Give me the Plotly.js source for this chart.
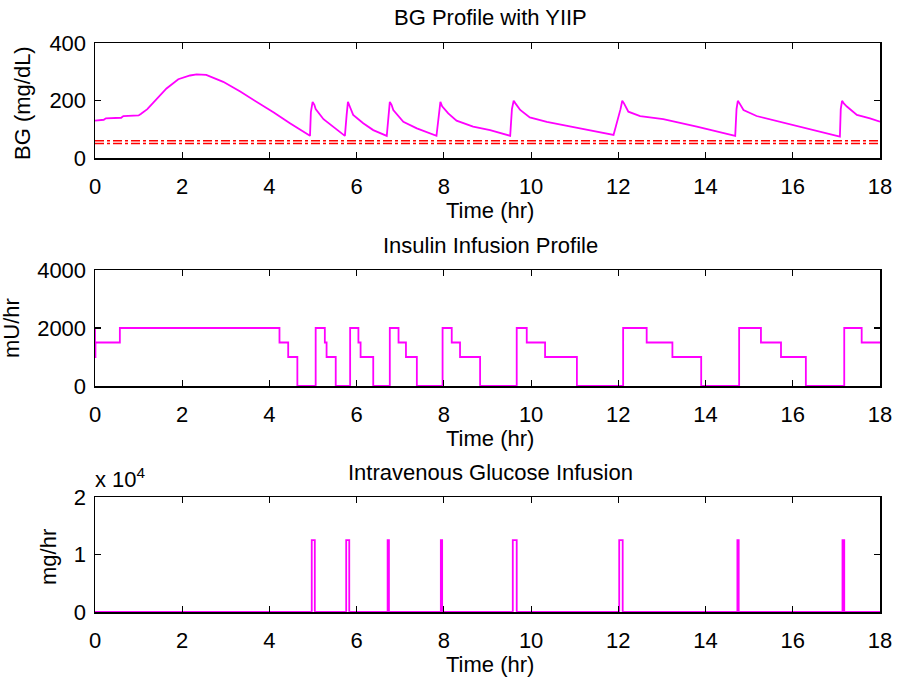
<!DOCTYPE html>
<html>
<head>
<meta charset="utf-8">
<script src="https://cdn.plot.ly/plotly-3.0.1.min.js"></script>
<style>html,body{margin:0;padding:0;background:#fff;}#chart{width:897px;height:681px;}</style>
</head>
<body>
<div id="chart"></div>
<script>
// ---- Data ----
// BG profile (mg/dL) vs time (hr)
var bgTime = [0, 0.2, 0.25, 0.6, 0.65, 1.0, 1.05, 1.2, 1.64, 1.91, 2.18, 2.33, 2.55, 2.94, 3.33, 3.71, 4.10, 4.47, 4.93,
  4.95, 4.99, 5.03, 5.06, 5.24, 5.47, 5.73,
  5.77, 5.80, 5.84, 5.88, 5.92, 6.15, 6.38, 6.69,
  6.73, 6.76, 6.80, 6.84, 7.07, 7.38, 7.83,
  7.89, 7.92, 7.96, 8.02, 8.10, 8.29, 8.67, 9.06, 9.52,
  9.56, 9.60, 9.64, 9.75, 9.97, 10.36, 11.12, 11.89,
  12.05, 12.09, 12.13, 12.23, 12.50, 13.03, 13.80, 14.68,
  14.71, 14.74, 14.78, 14.87, 15.17, 15.71, 16.47, 17.08,
  17.10, 17.13, 17.17, 17.24, 17.47, 17.77, 18];
var bgValue = [130, 133, 138, 140, 146, 148, 153, 170, 242, 274, 287, 291, 289, 265, 231, 196, 158, 121, 77,
  160, 195, 185, 170, 135, 109, 77,
  150, 195, 180, 165, 150, 121, 97, 77,
  160, 195, 185, 167, 126, 103, 77,
  160, 195, 180, 170, 155, 130, 109, 97, 77,
  170, 199, 190, 167, 141, 126, 103, 80,
  170, 199, 190, 161, 146, 135, 109, 77,
  170, 199, 190, 167, 146, 126, 97, 74,
  170, 199, 190, 179, 150, 138, 126];
// Hypoglycemia thresholds (mg/dL)
var thresholdLevels = [60, 50];
var timeRange = [0, 18];

// Insulin infusion (mU/hr), step changes
var insTime = [0, 0, 0.01, 0.57, 4.23, 4.43, 4.64, 5.06, 5.27, 5.31, 5.52, 5.85, 6.04, 6.09, 6.38, 6.76, 6.96, 7.13, 7.38,
  7.97, 8.18, 8.37, 8.83, 9.67, 9.90, 10.32, 11.05, 12.11, 12.65, 13.24, 13.90, 14.77, 15.27, 15.73, 16.30, 17.18, 17.58, 18];
var insValue = [2000, 1000, 1500, 2000, 1500, 1000, 0, 2000, 1500, 1000, 0, 2000, 1500, 1000, 0, 2000, 1500, 1000, 0,
  2000, 1500, 1000, 0, 2000, 1500, 1000, 0, 2000, 1500, 1000, 0, 2000, 1500, 1000, 0, 2000, 1500, 1500];

// Intravenous glucose infusion (mg/hr), pulses
var gluTime = [0, 4.97, 5.04, 5.76, 5.83, 6.71, 6.74, 7.93, 7.96, 9.58, 9.67, 12.02, 12.10, 14.73, 14.76, 17.14, 17.18, 18];
var gluValue = [0, 12500, 0, 12500, 0, 12500, 0, 12500, 0, 12500, 0, 12500, 0, 12500, 0, 12500, 0, 0];

// Tick labels
var xTicks = [0, 2, 4, 6, 8, 10, 12, 14, 16, 18];
var bgTicks = [0, 200, 400];
var insTicks = [0, 2000, 4000];
var gluTickVals = [0, 10000, 20000];
var gluTickText = ['0', '1', '2'];

// ---- Layout helpers ----
var W = 897, H = 681;
function px(x) { return x / W; }
function py(y) { return 1 - y / H; }
var FONT = 'Liberation Sans, Arial, sans-serif';
var FS = 22;
var MAG = '#ff00ff';

var traces = [
  {x: bgTime, y: bgValue, xaxis: 'x', yaxis: 'y', type: 'scatter', mode: 'lines',
   line: {color: MAG, width: 1.8}},
  {x: timeRange, y: [thresholdLevels[0], thresholdLevels[0]], xaxis: 'x', yaxis: 'y', type: 'scatter', mode: 'lines',
   line: {color: '#ff0000', width: 1.5, dash: 'dashdot'}},
  {x: timeRange, y: [thresholdLevels[1], thresholdLevels[1]], xaxis: 'x', yaxis: 'y', type: 'scatter', mode: 'lines',
   line: {color: '#ff0000', width: 1.5, dash: 'dashdot'}},
  {x: insTime, y: insValue, xaxis: 'x2', yaxis: 'y2', type: 'scatter', mode: 'lines',
   line: {color: MAG, width: 1.8, shape: 'hv'}},
  {x: gluTime, y: gluValue, xaxis: 'x3', yaxis: 'y3', type: 'scatter', mode: 'lines',
   line: {color: MAG, width: 1.8, shape: 'hv'}}
];

function xa(dom) {
  return {domain: [px(95), px(880)], anchor: dom, range: [0, 18], tickvals: xTicks,
    showline: true, mirror: 'ticks', linecolor: '#000', linewidth: 1.5,
    ticks: 'inside', ticklen: 6, tickwidth: 1.2, tickcolor: '#000',
    showgrid: false, zeroline: false, tickfont: {family: FONT, size: FS, color: '#000'}, ticklabelstandoff: 8};
}
function ya(top, bot, anc, range, tv, tt) {
  var o = {domain: [py(bot), py(top)], anchor: anc, range: range, tickvals: tv,
    showline: true, mirror: 'ticks', linecolor: '#000', linewidth: 1.5,
    ticks: 'inside', ticklen: 6, tickwidth: 1.2, tickcolor: '#000',
    showgrid: false, zeroline: false, tickfont: {family: FONT, size: FS, color: '#000'}, ticklabelstandoff: 3};
  if (tt) o.ticktext = tt;
  return o;
}

function ann(text, x, y, opts) {
  var a = {text: text, x: x, y: y, xref: 'paper', yref: 'paper', showarrow: false,
    xanchor: 'center', yanchor: 'middle', font: {family: FONT, size: FS, color: '#000'}};
  for (var k in (opts || {})) a[k] = opts[k];
  return a;
}
var cx = px(490);

var layout = {
  width: W, height: H, margin: {l: 0, r: 0, t: 0, b: 0},
  paper_bgcolor: '#fff', plot_bgcolor: '#fff', showlegend: false,
  xaxis: xa('y'), yaxis: ya(43, 158, 'x', [0, 400], bgTicks),
  xaxis2: xa('y2'), yaxis2: ya(270, 386, 'x2', [0, 4000], insTicks),
  xaxis3: xa('y3'), yaxis3: ya(497, 612, 'x3', [0, 20000], gluTickVals, gluTickText),
  annotations: [
    ann('BG Profile with YIIP', cx, py(18)),
    ann('Time (hr)', cx, py(211)),
    ann('Insulin Infusion Profile', cx, py(245)),
    ann('Time (hr)', cx, py(438)),
    ann('Intravenous Glucose Infusion', cx, py(473)),
    ann('Time (hr)', cx, py(664)),
    ann('BG (mg/dL)', px(22), py(103), {textangle: -90}),
    ann('mU/hr', px(11), py(328), {textangle: -90}),
    ann('mg/hr', px(48), py(557), {textangle: -90}),
    ann('x 10<sup>4</sup>', px(93), py(478), {xanchor: 'left'})
  ]
};

Plotly.newPlot('chart', traces, layout, {displayModeBar: false, staticPlot: true});
</script>
</body>
</html>
